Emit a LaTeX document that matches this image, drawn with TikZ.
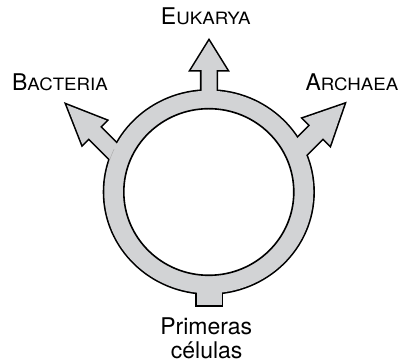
\documentclass[tikz,border=0pt]{standalone}
\usepackage{graphicx}
\usepackage{fontspec}
\setmainfont{TeX Gyre Heros}
\definecolor{ringgray}{RGB}{210,211,213}
\newcommand\arrowshape[4]{(0,0) -- (-#1,#2) -- (-#1,#3) -- (-#4,#3) -- (-#4,-#3) -- (-#1,-#3) -- (-#1,-#2) -- cycle}
\newcommand\allshapes[1]{%
  \path[#1] (208.8,171) ellipse [x radius=104.5pt, y radius=101.3pt];
  \path[#1, shift={(209,322)}, rotate=90] \arrowshape{29}{18}{7.5}{84};
  \path[#1, shift={(66.75,258.1)}, rotate=135] \arrowshape{39}{17}{8}{103.6};
  \path[#1, shift={(344.2,258.8)}, rotate=45] \arrowshape{39}{19}{9}{99.7};
  \path[#1] (196.5,57.7) rectangle (221.5,120);
}
\newcommand\smc[2]{#1\scalebox{1.1}[1]{\fontsize{17}{20}\selectfont #2}}
\tikzset{
  outline/.style={draw=black, line width=3.2pt, line join=miter},
  body/.style={fill=ringgray},
  label/.style={inner sep=0pt, anchor=base, font=\fontsize{23}{24}\selectfont}
}
\begin{document}
\begin{tikzpicture}[x=1pt, y=1pt]
\useasboundingbox (0,0) rectangle (401,363);
\allshapes{outline}
\allshapes{body}
\path[fill=white, draw=black, line width=1.6pt] (208.8,171) ellipse [x radius=85pt, y radius=83.3pt];
\draw[black!35, line width=0.4pt] (208.8,171) ++(155:104.5 and 101.3) arc [start angle=155, end angle=163, x radius=104.5pt, y radius=101.3pt];
\node[label] (euk) at (205.8,338) {\smc{E}{UKARYA}};
\node[label] (bac) at (60,272.3) {\smc{B}{ACTERIA}};
\node[label] (arc) at (352,272.3) {\smc{A}{RCHAEA}};
\node[label] (prim) at (206.2,28) {Primeras};
\node[label] (cel) at (206.7,4.5) {células};
\end{tikzpicture}
\end{document}
